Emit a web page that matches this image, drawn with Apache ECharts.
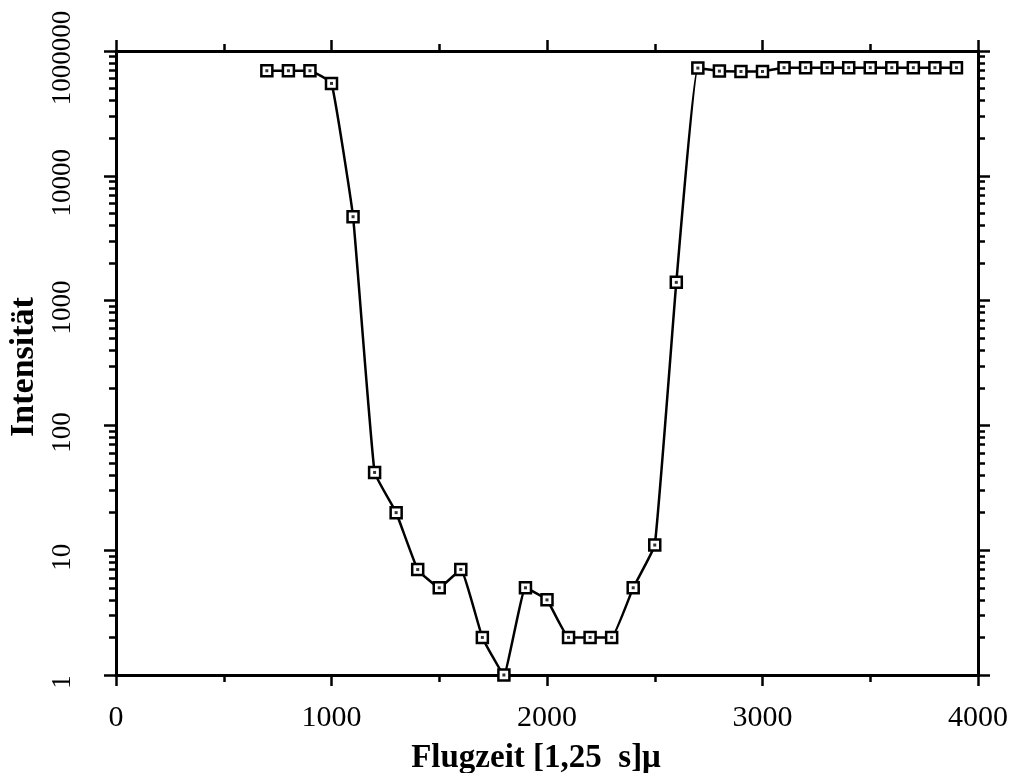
<!DOCTYPE html>
<html><head><meta charset="utf-8">
<script src="https://cdn.jsdelivr.net/npm/echarts@6/dist/echarts.min.js"></script>
<style>html,body{margin:0;padding:0;background:#fff}#c{width:1019px;height:773px}</style>
</head><body><div id="c"></div>
<script>
// Data
const flugzeit = [700, 800, 900, 1000, 1100, 1200, 1300, 1400, 1500, 1600, 1700, 1800, 1900, 2000, 2100, 2200, 2300, 2400, 2500, 2600, 2700, 2800, 2900, 3000, 3100, 3200, 3300, 3400, 3500, 3600, 3700, 3800, 3900];
const intensitaet = [69500, 69500, 69500, 55000, 4700, 42, 20, 7, 5, 7, 2, 1, 5, 4, 2, 2, 2, 5, 11, 1400, 73000, 69000, 68500, 68500, 73500, 73500, 73500, 73500, 73500, 73500, 73500, 73500, 73500];

const xTickValues = [0, 1000, 2000, 3000, 4000];
const xTickLabels = ['0', '1000', '2000', '3000', '4000'];
const yTickValues = [1, 10, 100, 1000, 10000, 100000];
const yTickLabels = ['1', '10', '100', '1000', '10000', '1000000'];
const yMinorMultipliers = [2, 3, 4, 5, 6, 7, 8, 9];

const yMinorValues = [];
for (let d = 0; d < yTickValues.length - 1; d++) {
  for (const m of yMinorMultipliers) yMinorValues.push(yTickValues[d] * m);
}

const pairs = flugzeit.map((x, i) => [x, intensitaet[i]]);
const FONT = '"Liberation Serif", "Times New Roman", serif';
const black = '#000';

function yAx(position, ticks, len, showLine, labels) {
  return {
    type: 'log', logBase: 10, min: 1, max: 100000, position: position,
    axisLine: { show: showLine, onZero: false, lineStyle: { color: black, width: 3 } },
    axisTick: { show: true, inside: false, length: len, customValues: ticks, lineStyle: { color: black, width: 2.5 } },
    minorTick: { show: false },
    splitLine: { show: false },
    axisLabel: labels ? {
      show: true, customValues: yTickValues, rotate: 90, margin: 40,
      fontFamily: FONT, fontSize: 27, color: black, padding: [0, 14, 0, 0],
      formatter: v => { const i = yTickValues.indexOf(Math.round(v)); return i >= 0 ? yTickLabels[i] : ''; }
    } : { show: false },
    name: labels ? 'Intensität' : '',
    nameLocation: 'middle', nameRotate: 90, nameGap: 75,
    nameTextStyle: { fontFamily: FONT, fontSize: 34, fontWeight: 'bold', color: black, padding: [0, 8, 0, 0] }
  };
}

const chart = echarts.init(document.getElementById('c'), null, { renderer: 'canvas' });
chart.setOption({
  animation: false,
  backgroundColor: '#fff',
  grid: { left: 116, right: 41, top: 51, bottom: 98, containLabel: false, outerBoundsMode: 'none' },
  xAxis: [
    {
      type: 'value', min: 0, max: 4000, interval: 1000, position: 'bottom',
      axisLine: { show: true, onZero: false, lineStyle: { color: black, width: 3 } },
      axisTick: { show: true, inside: false, length: 11, lineStyle: { color: black, width: 2.5 } },
      minorTick: { show: true, splitNumber: 2, length: 7, lineStyle: { color: black, width: 2.5 } },
      splitLine: { show: false },
      axisLabel: {
        margin: 28, fontFamily: FONT, fontSize: 30, color: black,
        formatter: v => { const i = xTickValues.indexOf(v); return i >= 0 ? xTickLabels[i] : ''; }
      },
      name: 'Flugzeit [1,25  s]μ', nameLocation: 'middle', nameGap: 67,
      nameTextStyle: { fontFamily: FONT, fontSize: 33, fontWeight: 'bold', color: black, padding: [0, 22, 0, 0] }
    },
    {
      type: 'value', min: 0, max: 4000, interval: 1000, position: 'top',
      axisLine: { show: true, onZero: false, lineStyle: { color: black, width: 3 } },
      axisTick: { show: true, inside: false, length: 11, lineStyle: { color: black, width: 2.5 } },
      minorTick: { show: true, splitNumber: 2, length: 7, lineStyle: { color: black, width: 2.5 } },
      splitLine: { show: false },
      axisLabel: { show: false }
    }
  ],
  yAxis: [
    yAx('left', yTickValues, 12, true, true),
    yAx('left', yMinorValues, 7, false, false),
    yAx('right', yTickValues, 12, true, false),
    yAx('right', yMinorValues, 7, false, false)
  ],
  series: [
    {
      type: 'line', data: pairs, xAxisIndex: 0, yAxisIndex: 0,
      smooth: 0.1,
      lineStyle: { color: black, width: 2.5 },
      symbol: 'rect', symbolSize: 11,
      itemStyle: { color: '#fff', borderColor: black, borderWidth: 2.5 },
      z: 3
    },
    {
      type: 'scatter', data: pairs, xAxisIndex: 0, yAxisIndex: 0,
      symbol: 'rect', symbolSize: 3,
      itemStyle: { color: black },
      z: 4, silent: true
    }
  ]
});
</script>
</body></html>
